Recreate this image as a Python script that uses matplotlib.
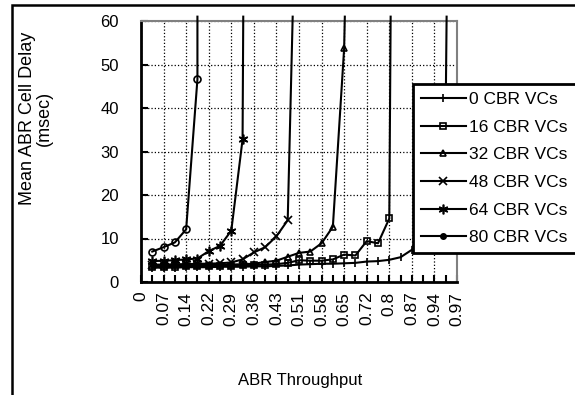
import numpy as np
import matplotlib
matplotlib.use("Agg")
import matplotlib.pyplot as plt
from matplotlib.lines import Line2D
from matplotlib.patches import Rectangle

plt.rcParams['font.family'] = ['Liberation Sans', 'DejaVu Sans']

# x tick labels (ABR throughput), one per labelled category position
tick_labels = ['0', '0.07', '0.14', '0.22', '0.29', '0.36', '0.43', '0.51',
               '0.58', '0.65', '0.72', '0.8', '0.87', '0.94', '0.97']

# series: x = category position on the throughput axis, y = delay (msec)
# last point of each series is where the curve leaves the top of the plot
cbr0_x = [0.5, 1, 1.5, 2, 2.5, 3, 3.5, 4, 4.5, 5, 5.5, 6, 6.5, 7, 7.5, 8, 8.5,
          9, 9.5, 10, 10.5, 11, 11.5, 12, 12.5, 13, 13.5, 13.54]
cbr0_y = [3.3, 3.3, 3.3, 3.4, 3.4, 3.4, 3.5, 3.5, 3.5, 3.6, 3.6, 3.7, 3.8, 4.0,
          4.1, 4.2, 4.2, 4.3, 4.4, 4.7, 4.8, 5.1, 5.7, 7.4, 9.5, 14, 40, 61]

cbr16_x = [0.5, 1, 1.5, 2, 2.5, 3, 3.5, 4, 4.5, 5, 5.5, 6, 6.5, 7, 7.5, 8, 8.5,
           9, 9.5, 10, 10.5, 11, 11.06]
cbr16_y = [3.5, 3.5, 3.5, 3.6, 3.6, 3.6, 3.7, 3.7, 3.8, 3.9, 4.0, 4.1, 4.4, 5.0,
           4.9, 4.9, 5.2, 6.3, 6.1, 9.4, 8.9, 14.6, 61]

cbr32_x = [0.5, 1, 1.5, 2, 2.5, 3, 3.5, 4, 4.5, 5, 5.5, 6, 6.5, 7, 7.5, 8, 8.5,
           9, 9.03]
cbr32_y = [3.7, 3.7, 3.8, 3.8, 3.9, 3.9, 4.0, 4.0, 4.1, 4.2, 4.6, 4.9, 5.8, 6.7,
           7.0, 8.9, 12.7, 53.7, 61]

cbr48_x = [0.5, 1, 1.5, 2, 2.5, 3, 3.5, 4, 4.5, 5, 5.5, 6, 6.5, 6.72]
cbr48_y = [4.0, 4.0, 4.1, 4.1, 4.2, 4.2, 4.3, 4.5, 5.2, 6.8, 8.0, 10.5, 14.2, 61]

cbr64_x = [0.5, 1, 1.5, 2, 2.5, 3, 3.5, 4, 4.5, 4.53]
cbr64_y = [4.8, 4.9, 5.0, 5.2, 5.4, 7.1, 8.3, 11.8, 32.8, 61]

cbr80_x = [0.5, 1, 1.5, 2, 2.5, 2.5]
cbr80_y = [7.0, 8.0, 9.1, 12.1, 46.6, 61]

series_names = ['0 CBR VCs', '16 CBR VCs', '32 CBR VCs', '48 CBR VCs',
                '64 CBR VCs', '80 CBR VCs']
asterisk = (6, 2, 0)
series = [
    (cbr0_x, cbr0_y, '|', 6),
    (cbr16_x, cbr16_y, 's', 5),
    (cbr32_x, cbr32_y, '^', 5),
    (cbr48_x, cbr48_y, 'x', 6),
    (cbr64_x, cbr64_y, asterisk, 7),
    (cbr80_x, cbr80_y, 'o', 5),
]

W, H = 575, 395
fig = plt.figure(figsize=(W / 100, H / 100), dpi=100)
ax = fig.add_axes([141 / W, 1 - 282 / H, 316 / W, 261 / H])

for x, y, m, ms in series:
    ax.plot(x, y, color='black', lw=1.5, marker=m, ms=ms, mfc='none',
            mec='black', mew=1.2, markevery=slice(0, len(x) - 1),
            clip_on=False, zorder=3)

ax.set_xlim(0, 14)
ax.set_ylim(0, 60)
ax.set_xticks(np.arange(0, 15))
ax.set_xticklabels(tick_labels, rotation=90, fontsize=12.5)
ax.set_xticks(np.arange(0, 14.5, 0.5), minor=True)
ax.set_yticks(np.arange(0, 61, 10))
ax.tick_params(axis='both', which='both', direction='in', length=5,
               width=1.5, color='black')
ax.tick_params(axis='x', which='major', pad=7)
ax.tick_params(axis='y', which='major', pad=16, labelsize=12)
ax.grid(True, which='major', color='black', linestyle=':', linewidth=0.9)

for s in ['left', 'bottom']:
    ax.spines[s].set_linewidth(2)
    ax.spines[s].set_color('black')
for s in ['top', 'right']:
    ax.spines[s].set_linewidth(1.5)
    ax.spines[s].set_color('#808080')

fig.text(36 / W, 1 - 118 / H, 'Mean ABR Cell Delay\n(msec)', rotation=90,
         ha='center', va='center', fontsize=13, multialignment='center',
         linespacing=1.0)
fig.text(300 / W, 1 - 381 / H, 'ABR Throughput', ha='center', va='center',
         fontsize=12)

# legend: 80 CBR shown with a small filled dot
handles = []
for i, (x, y, m, ms) in enumerate(series):
    if m == 'o':
        h = Line2D([], [], color='black', lw=1.5, marker='o', ms=4,
                   mfc='black', mec='black')
    else:
        h = Line2D([], [], color='black', lw=1.5, marker=m, ms=ms,
                   mfc='none', mec='black', mew=1.2)
    handles.append(h)

leg = ax.legend(handles, series_names, loc='upper left',
                bbox_to_anchor=(413 / W, 1 - 84 / H, 200 / W, 0),
                bbox_transform=fig.transFigure, mode='expand',
                borderaxespad=0, fontsize=12.5, handlelength=2.6,
                handletextpad=0.2, borderpad=0.45, labelspacing=0.72,
                fancybox=False, framealpha=1, edgecolor='black')
leg.get_frame().set_linewidth(2)
leg.set_zorder(5)

# outer chart frame (only top and left edges fall inside the picture)
frame = Rectangle((12 / W, -0.1), 1.2, 1 - 5 / H + 0.1,
                  transform=fig.transFigure, fill=False, lw=1.8,
                  edgecolor='black', clip_on=False)
fig.add_artist(frame)

fig.savefig('out.png', dpi=100)
